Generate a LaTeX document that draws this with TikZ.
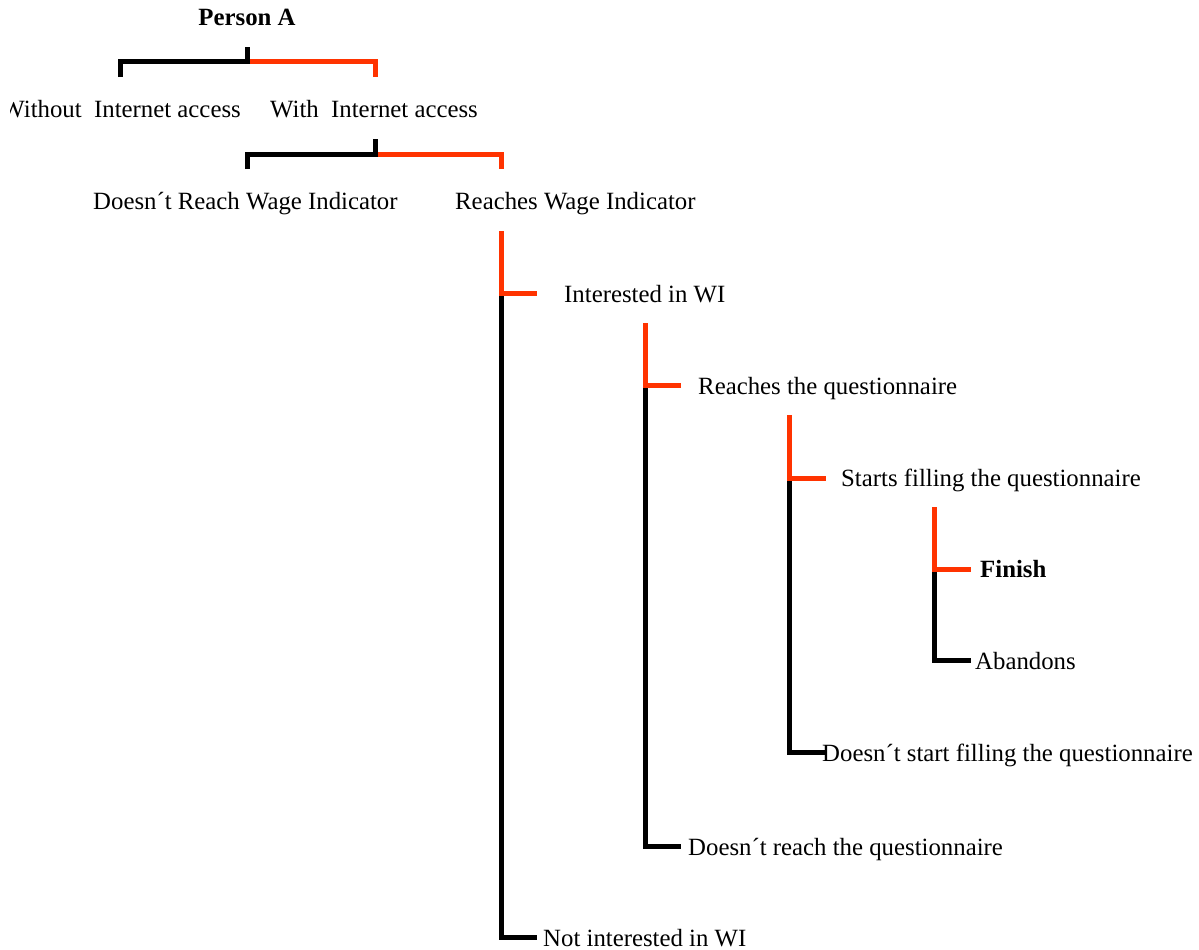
\documentclass[tikz,border=0pt]{standalone}
\usepackage{fontspec}
\setmainfont{Liberation Serif}
\definecolor{branchred}{RGB}{255,51,0}
\begin{document}
\begin{tikzpicture}[x=1pt,y=-1pt,
  lab/.style={font=\fontsize{24.8}{30}\selectfont, inner sep=0pt, anchor=base west},
  boldlab/.style={lab, font=\fontsize{24.8}{30}\selectfont\bfseries},
  yesline/.style={draw=branchred, line width=5pt},
  noline/.style={draw=black, line width=5pt}]
\useasboundingbox (0,0) rectangle (1199,950);
% texts
\node[boldlab, anchor=base] (pa) at (247,26) {Person A};
\begin{scope}
\clip (10,85) rectangle (260,130);
\node[lab, anchor=base east] (wo) at (241,117) {Without~~Internet access};
\end{scope}
\node[lab] (wi) at (270,117) {With~~Internet access};
\node[lab] (dr) at (93,209) {Doesn´t Reach Wage Indicator};
\node[lab] (rw) at (455,209) {Reaches Wage Indicator};
\node[lab] (iw) at (564,302) {Interested in WI};
\node[lab] (nw) at (543,946) {Not interested in WI};
\node[lab] (rq) at (698,394) {Reaches the questionnaire};
\node[lab] (dq) at (688,855) {Doesn´t reach the questionnaire};
\node[lab] (sf) at (841,486) {Starts filling the questionnaire};
\node[lab] (ds) at (822,761) {Doesn´t start filling the questionnaire};
\node[boldlab] (fi) at (980,577) {Finish};
\node[lab] (ab) at (975,669) {Abandons};
% branch points
\coordinate (a0) at (247,47);  \coordinate (a1) at (247,62);
\coordinate (aL) at (120,62);  \coordinate (aL2) at (120,77);
\coordinate (aR) at (375,62);  \coordinate (aR2) at (375,77);
\coordinate (b0) at (375,139); \coordinate (b1) at (375,154);
\coordinate (bL) at (247,154); \coordinate (bL2) at (247,169);
\coordinate (bR) at (501,154); \coordinate (bR2) at (501,169);
\coordinate (c0) at (501,231); \coordinate (c1) at (501,293);
\coordinate (c2) at (537,293); \coordinate (c3) at (501,937); \coordinate (c4) at (537,937);
\coordinate (d0) at (645,323); \coordinate (d1) at (645,385);
\coordinate (d2) at (681,385); \coordinate (d3) at (645,846); \coordinate (d4) at (681,846);
\coordinate (e0) at (789,415); \coordinate (e1) at (789,478);
\coordinate (e2) at (826,478); \coordinate (e3) at (789,752); \coordinate (e4) at (826,752);
\coordinate (f0) at (934,507); \coordinate (f1) at (934,569);
\coordinate (f2) at (971,569); \coordinate (f3) at (934,660); \coordinate (f4) at (971,660);
% connectors
\draw[yesline] (a1) -- (aR) -- (aR2);
\draw[noline] (aL2) -- (aL) -- (a1) -- (a0);
\draw[yesline] (b1) -- (bR) -- (bR2);
\draw[noline] (bL2) -- (bL) -- (b1) -- (b0);
\draw[noline] (c1) -- (c3) -- (c4);
\draw[yesline] (c0) -- (c1) -- (c2);
\draw[noline] (d1) -- (d3) -- (d4);
\draw[yesline] (d0) -- (d1) -- (d2);
\draw[noline] (e1) -- (e3) -- (e4);
\draw[yesline] (e0) -- (e1) -- (e2);
\draw[noline] (f1) -- (f3) -- (f4);
\draw[yesline] (f0) -- (f1) -- (f2);
\end{tikzpicture}
\end{document}
